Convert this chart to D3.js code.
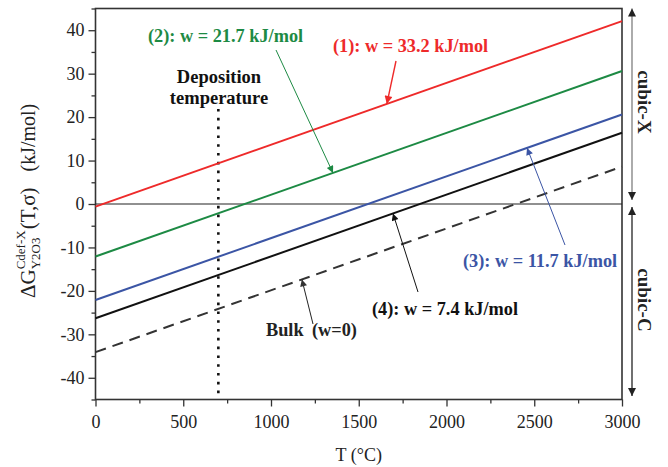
<!DOCTYPE html>
<html>
<head>
<meta charset="utf-8">
<script src="https://cdn.jsdelivr.net/npm/d3@7"></script>
<style>
  html, body { margin: 0; padding: 0; background: #fff; }
  svg { display: block; font-family: "Liberation Serif", "Times New Roman", serif; }
</style>
</head>
<body>
<svg id="chart" width="668" height="467"></svg>
<script>
// Gibbs energy difference vs temperature for several interaction parameters
const temperatures = [0, 3000];
const line1 = [-0.6, 42.1];   // w = 33.2 kJ/mol
const line2 = [-12.1, 30.6];  // w = 21.7 kJ/mol
const line3 = [-22.1, 20.6];  // w = 11.7 kJ/mol
const line4 = [-26.3, 16.4];  // w = 7.4 kJ/mol
const bulk  = [-34.1, 8.6];   // w = 0
const xTicks = [0, 500, 1000, 1500, 2000, 2500, 3000];
const yTicks = [-40, -30, -20, -10, 0, 10, 20, 30, 40];
const depositionT = 700;

const svg = d3.select("#chart");
const plotL = 95.5, plotR = 622, plotT = 8.5, plotB = 399.5;

const x = d3.scaleLinear().domain([0, 3000]).range([plotL, plotR]);
const y = d3.scaleLinear().domain([-45, 45]).range([plotB, plotT]);

// markers for the pointer arrows
const defs = svg.append("defs");
function marker(id, color, w, h) {
  defs.append("marker")
    .attr("id", id).attr("viewBox", "0 0 10 10")
    .attr("refX", 10).attr("refY", 5)
    .attr("markerUnits", "userSpaceOnUse")
    .attr("markerWidth", w).attr("markerHeight", h)
    .attr("orient", "auto-start-reverse")
    .append("path").attr("d", "M0,0 L10,5 L0,10 Z").attr("fill", color);
}
marker("arRed", "#ee2a2a", 12, 8);
marker("arGreen", "#1d8a44", 12, 7);
marker("arBlue", "#3b55a5", 12, 7);
marker("arBlack", "#111", 12, 7);
marker("arGray", "#333", 12, 7);
marker("arSide", "#222", 11, 8);

// axes
const frameColor = "#333";
const plain = d => String(d);
const xAxis = d3.axisBottom(x).tickValues(xTicks).tickSize(7).tickPadding(9).tickFormat(plain);
const xMinor = d3.axisBottom(x).tickValues(d3.range(250, 3000, 500)).tickSize(4).tickFormat("");
const yAxis = d3.axisLeft(y).tickValues(yTicks).tickSize(7).tickPadding(4).tickFormat(plain);
const yMinor = d3.axisLeft(y).tickValues(d3.range(-45, 46, 10)).tickSize(4).tickFormat("");

function styleAxis(g) {
  g.select(".domain").remove();
  g.selectAll("line").attr("stroke", frameColor).attr("stroke-width", 1.3);
  g.selectAll("text").attr("font-size", 18).attr("fill", "#222")
    .attr("font-family", "Liberation Serif, serif");
}
svg.append("g").attr("transform", `translate(0,${plotB})`).call(xAxis).call(styleAxis);
svg.append("g").attr("transform", `translate(0,${plotB})`).call(xMinor).call(styleAxis);
svg.append("g").attr("transform", `translate(${plotL},0)`).call(yAxis).call(styleAxis);
svg.append("g").attr("transform", `translate(${plotL},0)`).call(yMinor).call(styleAxis);

// frame
svg.append("rect").attr("x", plotL).attr("y", plotT)
  .attr("width", plotR - plotL).attr("height", plotB - plotT)
  .attr("fill", "none").attr("stroke", frameColor).attr("stroke-width", 1.6);

// zero line
svg.append("line").attr("x1", plotL).attr("x2", plotR)
  .attr("y1", y(0)).attr("y2", y(0))
  .attr("stroke", "#222").attr("stroke-width", 1.2);

// deposition temperature marker
svg.append("line").attr("x1", x(depositionT)).attr("x2", x(depositionT))
  .attr("y1", 109).attr("y2", plotB)
  .attr("stroke", "#111").attr("stroke-width", 2.6)
  .attr("stroke-dasharray", "2.6,6.2");

// data lines
const series = [
  { vals: line1, color: "#ee2a2a", dash: null },
  { vals: line2, color: "#1d8a44", dash: null },
  { vals: line3, color: "#3b55a5", dash: null },
  { vals: line4, color: "#111111", dash: null },
  { vals: bulk,  color: "#333333", dash: "11,7" }
];
const lineGen = d3.line().x(d => x(d[0])).y(d => y(d[1]));
series.forEach(s => {
  svg.append("path")
    .datum(temperatures.map((t, i) => [t, s.vals[i]]))
    .attr("d", lineGen)
    .attr("fill", "none")
    .attr("stroke", s.color)
    .attr("stroke-width", 2)
    .attr("stroke-dasharray", s.dash);
});

function valueAt(vals, t) {
  return vals[0] + (vals[1] - vals[0]) * (t - temperatures[0]) / (temperatures[1] - temperatures[0]);
}

// labels with pointer arrows; each label is one or more text pieces
const labels = [
  { parts: [["(1): w = 33.2 kJ/mol", 333]], color: "#ee2a2a", ty: 52, from: [396, 61], tipT: 1660, vals: line1, mk: "arRed", sw: 1.4 },
  { parts: [["(2): w = 21.7 kJ/mol", 148]], color: "#1d8a44", ty: 42, from: [276, 50], tipT: 1353, vals: line2, mk: "arGreen", sw: 1 },
  { parts: [["(3): w = 11.7 kJ/mol", 463]], color: "#3b55a5", ty: 267, from: [565, 245], tipT: 2459, vals: line3, mk: "arBlue", sw: 1 },
  { parts: [["(4): w = 7.4 kJ/mol", 372]], color: "#111", ty: 315, from: [418, 292], tipT: 1695, vals: line4, mk: "arBlack", sw: 1 },
  { parts: [["Bulk", 266], ["(w=0)", 312]], color: "#222", ty: 336, from: [313, 324], tipT: 1176, vals: bulk, mk: "arGray", sw: 1 }
];
labels.forEach(l => {
  l.parts.forEach(([str, px]) => {
    svg.append("text").attr("x", px).attr("y", l.ty)
      .attr("font-size", 18.3).attr("font-weight", "bold")
      .attr("fill", l.color).text(str);
  });
  svg.append("line")
    .attr("x1", l.from[0]).attr("y1", l.from[1])
    .attr("x2", x(l.tipT)).attr("y2", y(valueAt(l.vals, l.tipT)))
    .attr("stroke", l.color).attr("stroke-width", l.sw)
    .attr("marker-end", `url(#${l.mk})`);
});

svg.append("text").attr("x", 219).attr("y", 83)
  .attr("text-anchor", "middle").attr("font-size", 18.5).attr("font-weight", "bold")
  .attr("fill", "#111").text("Deposition");
svg.append("text").attr("x", 219).attr("y", 104)
  .attr("text-anchor", "middle").attr("font-size", 18.5).attr("font-weight", "bold")
  .attr("fill", "#111").text("temperature");

// phase region arrows on the right
const sideX = 632;
svg.append("line").attr("x1", sideX).attr("x2", sideX)
  .attr("y1", y(45)).attr("y2", 200)
  .attr("stroke", "#888").attr("stroke-width", 1.4)
  .attr("marker-start", "url(#arSide)").attr("marker-end", "url(#arSide)");
svg.append("line").attr("x1", sideX).attr("x2", sideX)
  .attr("y1", 207).attr("y2", 396)
  .attr("stroke", "#111").attr("stroke-width", 1.2)
  .attr("marker-start", "url(#arSide)").attr("marker-end", "url(#arSide)");

[["cubic-X", 102], ["cubic-C", 300]].forEach(([t, cy]) => {
  svg.append("text")
    .attr("transform", `translate(638,${cy}) rotate(90)`)
    .attr("text-anchor", "middle").attr("font-size", 19).attr("font-weight", "bold")
    .attr("fill", "#222").text(t);
});

// axis titles
svg.append("text").attr("x", (plotL + plotR) / 2).attr("y", 461)
  .attr("text-anchor", "middle").attr("font-size", 18).attr("fill", "#222")
  .text("T (°C)");

const yt = svg.append("g").attr("transform", "translate(35,298) rotate(-90)");
let cx = 0;
function piece(str, size, dy) {
  const t = yt.append("text").attr("x", cx).attr("y", dy)
    .attr("font-size", size).attr("fill", "#222").attr("xml:space", "preserve").text(str);
  return t.node().getComputedTextLength();
}
cx += piece("ΔG", 21, 0);
const wSup = piece("Cdef-X", 13, -10);
const wSub = piece("Y2O3", 13, 5);
cx += Math.max(wSup, wSub) + 1;
cx += piece("(T,σ)", 21, 0);
cx += 16;
piece("(kJ/mol)", 20, 0);
</script>
</body>
</html>
